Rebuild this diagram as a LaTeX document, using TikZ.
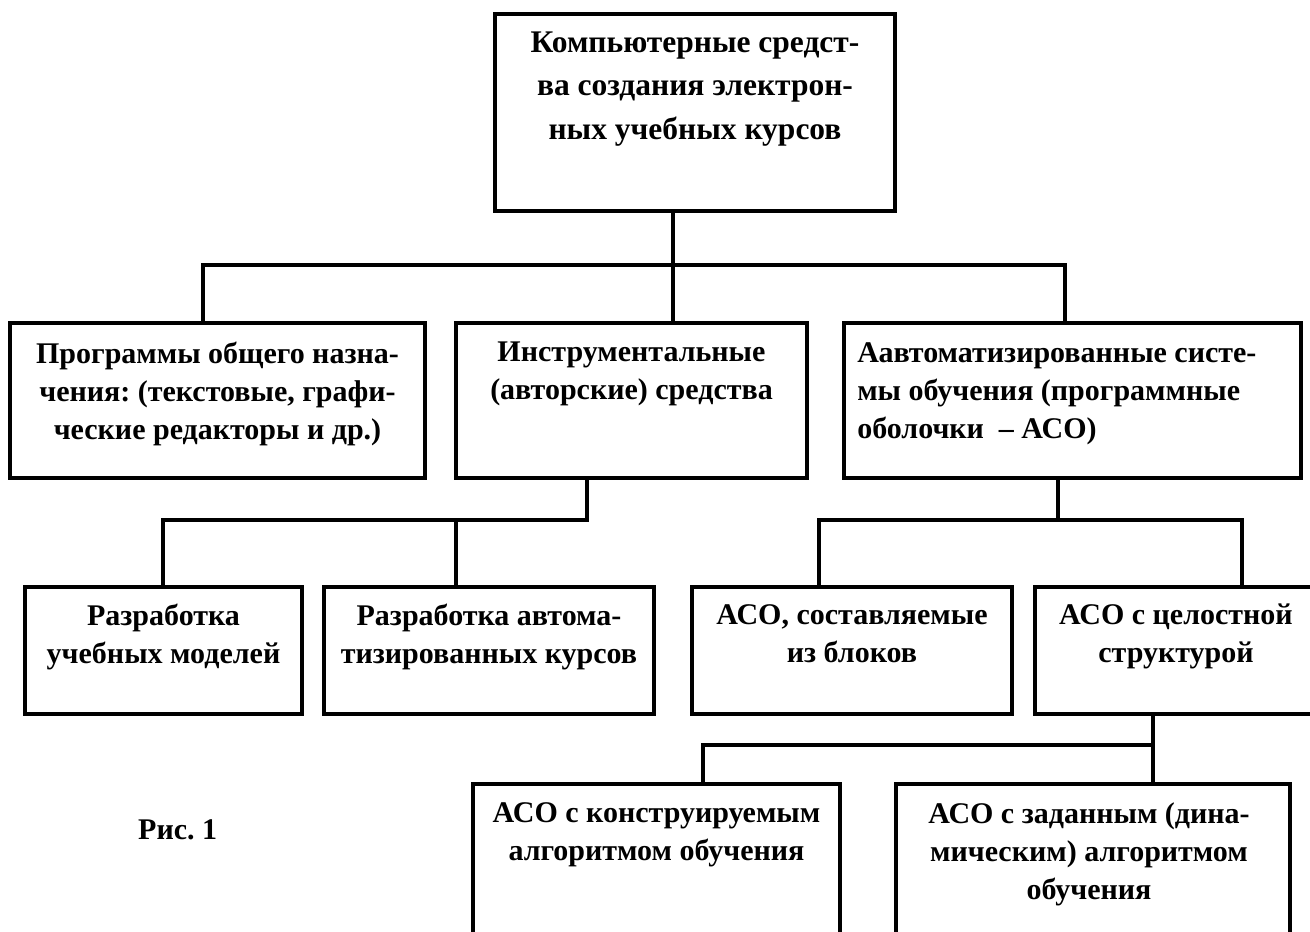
\documentclass[tikz,border=0pt]{standalone}
\usepackage{fontspec}
\setmainfont{Liberation Serif}
\begin{document}
\frenchspacing
\begin{tikzpicture}[x=1pt,y=-1pt,
  box/.style={draw,line width=3.9pt,rectangle,inner sep=0pt},
  wire/.style={line width=3.6pt,line join=miter},
  big/.style={inner sep=0pt,align=center,anchor=north,
    font=\bfseries\fontsize{31.5}{43.5}\selectfont,
    execute at begin node=\strut},
  txt/.style={inner sep=0pt,align=center,anchor=north,
    font=\bfseries\fontsize{30}{38}\selectfont,
    execute at begin node=\strut}]
\clip (0,0) rectangle (1310,932);
\fill[white] (0,0) rectangle (1310,932);

% boxes
\node[box,minimum width=400pt,minimum height=197pt] (top) at (695,112.5) {};
\node[box,minimum width=415pt,minimum height=155pt] (r2a) at (217.5,400.5) {};
\node[box,minimum width=351pt,minimum height=155pt] (r2b) at (631.5,400.5) {};
\node[box,minimum width=457pt,minimum height=155pt] (r2c) at (1072.5,400.5) {};
\node[box,minimum width=277pt,minimum height=127pt] (r3a) at (163.5,650.5) {};
\node[box,minimum width=330pt,minimum height=127pt] (r3b) at (489,650.5) {};
\node[box,minimum width=320pt,minimum height=127pt] (r3c) at (852,650.5) {};
\node[box,minimum width=295pt,minimum height=127pt] (r3d) at (1182.5,650.5) {};
\node[box,minimum width=367pt,minimum height=176pt] (r4e) at (656.5,872) {};
\node[box,minimum width=394pt,minimum height=176pt] (r4f) at (1093,872) {};

% texts
\node[big,yshift=-19.5pt] (ttop) at (top.north)
  {Компьютерные средст-\\ва создания электрон-\\ных учебных курсов};
\node[txt,yshift=-21pt] (t2a) at (r2a.north)
  {Программы общего назна-\\чения: (текстовые, графи-\\ческие редакторы и др.)};
\node[txt,yshift=-21pt] (t2b) at (r2b.north)
  {Инструментальные\\(авторские) средства};
\node[txt,align=left,anchor=north west,yshift=-21pt,xshift=15pt] (t2c) at (r2c.north west)
  {Аавтоматизированные систе-\\мы обучения (программные\\оболочки \ – АСО)};
\node[txt,yshift=-19pt] (t3a) at (r3a.north) {Разработка\\учебных моделей};
\node[txt,yshift=-19pt] (t3b) at (r3b.north) {Разработка автома-\\тизированных курсов};
\node[txt,yshift=-19pt] (t3c) at (r3c.north) {АСО, составляемые\\из блоков};
\node[txt,yshift=-19pt,xshift=-6.5pt] (t3d) at (r3d.north) {АСО с целостной\\структурой};
\node[txt,yshift=-20pt] (t4e) at (r4e.north) {АСО с конструируемым\\алгоритмом обучения};
\node[txt,yshift=-20pt,xshift=-4pt] (t4f) at (r4f.north) {АСО с заданным (дина-\\мическим) алгоритмом\\обучения};
\node[inner sep=0pt,anchor=base west,font=\bfseries\fontsize{30}{36}\selectfont] (fig) at (138,839) {Рис. 1};

% bus points
\coordinate (k0) at (673,265);
\coordinate (ka) at (203,265);
\coordinate (kc) at (1065,265);
\coordinate (m0) at (587,520);
\coordinate (ma) at (163,520);
\coordinate (mb) at (456,520);
\coordinate (n0) at (1058,520);
\coordinate (nc) at (819,520);
\coordinate (nd) at (1242,520);
\coordinate (p0) at (1153,745);
\coordinate (pe) at (703,745);

% connectors
\draw[wire] (top.south -| k0) -- (r2b.north -| k0);
\draw[wire] (r2a.north -| ka) |- (kc) -- (r2c.north -| kc);
\draw[wire] (r2b.south -| m0) -- (m0) -- (ma) -- (r3a.north -| ma);
\draw[wire] (mb) -- (r3b.north -| mb);
\draw[wire] (r2c.south -| n0) -- (n0);
\draw[wire] (r3c.north -| nc) |- (nd) -- (r3d.north -| nd);
\draw[wire] (r3d.south -| p0) -- (r4f.north -| p0);
\draw[wire] (p0) -- (pe) -- (r4e.north -| pe);
\end{tikzpicture}
\end{document}
